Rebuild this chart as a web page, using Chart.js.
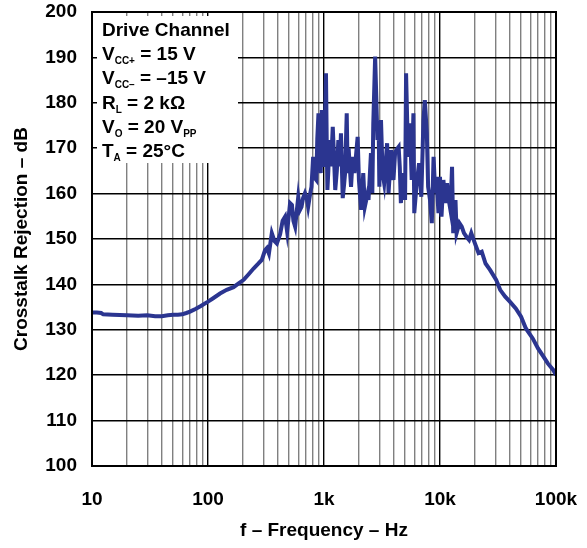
<!DOCTYPE html>
<html>
<head>
<meta charset="utf-8">
<script src="https://cdn.jsdelivr.net/npm/chart.js@4/dist/chart.umd.min.js"></script>
<style>
  html, body { margin: 0; padding: 0; background: #fff; }
  #wrap { width: 587px; height: 548px; }
</style>
</head>
<body>
<div id="wrap"><canvas id="chart" width="587" height="548"></canvas></div>
<script>
// frequency (Hz) and crosstalk rejection (dB)
const freqHz = [
  10, 11, 12, 12.5, 15, 20, 25, 30, 35, 40, 45, 50, 55, 60, 65, 70, 78, 86,
  100, 110, 127, 145, 166, 185, 203, 225, 247, 270, 291, 310, 322, 335, 355,
  375, 392, 418, 440, 462, 481, 510, 529, 545, 564, 600, 620, 640, 660, 686,
  710, 730, 760, 780, 806, 830, 859, 875, 896, 915, 937, 957, 970, 985,
  1010, 1040, 1055, 1070, 1090, 1110, 1150, 1190, 1220, 1250, 1290, 1330,
  1370, 1400, 1450, 1490, 1520, 1570, 1600, 1630, 1710, 1770, 1830, 1950,
  2000, 2090, 2180, 2250, 2380, 2420, 2540, 2610, 2660, 2760, 2890, 2960,
  3000, 3100, 3200, 3300, 3500, 3600, 3800, 3970, 4100, 4200, 4400, 4500,
  4600, 4800, 5000, 5100, 5300, 5500, 5700, 5900, 6000, 6300, 6600, 6900,
  7200, 7400, 7700, 7900, 8200, 8500, 8800, 9100, 9300, 9700, 10000, 10300,
  10700, 11100, 11500, 11900, 12300, 12700, 13000, 13600, 13900, 14700,
  15400, 16100, 16900, 17800, 18600, 19500, 20500, 21500, 22900, 24700,
  27000, 30500, 33000, 36500, 40000, 45000, 50000, 55000, 63000, 70000,
  78000, 85000, 95000, 100000
];
const rejectionDb = [
  133.8, 133.8, 133.7, 133.4, 133.3, 133.2, 133.1, 133.2, 133.0, 133.0, 133.2, 133.3, 133.3, 133.4, 133.7, 134.0, 134.6, 135.2,
  136.2, 136.9, 138.0, 138.8, 139.4, 140.3, 141.0, 142.3, 143.5, 144.5, 145.4, 147.5, 148.0, 146.8, 151.3,
  149.5, 149.0, 151.0, 154.0, 154.9, 151.6, 157.9, 157.5, 154.0, 152.7, 159.3, 156.4, 157.1, 159.0, 160.1,
  159.0, 157.1, 160.0, 161.5, 168.1, 163.5, 163.0, 172.0, 177.7, 169.0, 164.5, 178.4, 168.0, 165.9,
  170.0, 186.5, 172.0, 160.8, 165.0, 171.8, 166.0, 174.7, 168.0, 160.8, 165.0, 171.8,
  166.0, 173.3, 159.0, 162.0, 164.5, 177.7, 164.5, 170.0, 161.5, 168.1, 164.5, 172.5,
  163.0, 156.4, 164.5, 157.1, 160.1, 158.6, 168.9, 160.1, 175.5, 190.2, 171.8, 174.7,
  161.5, 176.2, 164.5, 162.3, 171.1, 160.1, 169.6, 163.0, 168.9, 169.6, 170.3, 165.9,
  157.9, 164.5, 158.6, 186.5, 168.1, 175.5, 163.0, 177.7, 155.7, 162.3, 166.7, 159.3,
  176.2, 180.6, 173.3, 161.5, 158.6, 153.5, 168.1, 160.1, 163.7, 155.7, 163.7, 154.9,
  163.0, 157.9, 162.3, 158.6, 156.4, 165.9, 151.3, 158.6, 151.3, 153.5,
  152.7, 151.3, 150.5, 149.8, 151.3, 149.8, 148.3, 146.9, 147.2, 144.6,
  143.2, 141.0, 138.8, 137.3, 136.2, 134.7, 132.9, 130.3, 128.1, 125.9,
  124.1, 122.6, 121.1, 120.0
];

// x tick labels for the decades
const decadeLabels = { 10: "10", 100: "100", 1000: "1k", 10000: "10k", 100000: "100k" };

// conditions box text (sub = subscript)
const legendLines = [
  [{ t: "Drive Channel" }],
  [{ t: "V" }, { t: "CC+", sub: true }, { t: " = 15 V" }],
  [{ t: "V" }, { t: "CC–", sub: true }, { t: " = –15 V" }],
  [{ t: "R" }, { t: "L", sub: true }, { t: " = 2 kΩ" }],
  [{ t: "V" }, { t: "O", sub: true }, { t: " = 20 V" }, { t: "PP", sub: true }],
  [{ t: "T" }, { t: "A", sub: true }, { t: " = 25°C" }]
];

const FONT = "'Liberation Sans', Arial, Helvetica, sans-serif";
const lineColor = "#2b3590";

const points = freqHz.map((f, i) => ({ x: f, y: rejectionDb[i] }));

// white box with test conditions, drawn after the grid
const conditionsBox = {
  id: "conditionsBox",
  beforeDatasetsDraw(chart) {
    const ctx = chart.ctx;
    const a = chart.chartArea;
    ctx.save();
    ctx.fillStyle = "#fff";
    ctx.fillRect(a.left + 5, a.top + 4, 141, 147);
    ctx.fillStyle = "#000";
    ctx.textBaseline = "alphabetic";
    let y = a.top + 24;
    legendLines.forEach((line) => {
      let x = a.left + 10;
      line.forEach((part) => {
        if (part.sub) {
          ctx.font = "bold 10px " + FONT;
          ctx.fillText(part.t, x, y + 4);
        } else {
          ctx.font = "bold 19px " + FONT;
          ctx.fillText(part.t, x, y);
        }
        x += ctx.measureText(part.t).width;
      });
      y += 24.2;
    });
    ctx.restore();
  },
  afterDraw(chart) {
    const ctx = chart.ctx;
    const a = chart.chartArea;
    ctx.save();
    ctx.strokeStyle = "#000";
    ctx.lineWidth = 2;
    ctx.strokeRect(a.left, a.top, a.right - a.left, a.bottom - a.top);
    ctx.restore();
  }
};

// no automatic padding for overflowing tick labels
const noPad = (scale) => {
  scale.paddingTop = 0;
  scale.paddingBottom = 0;
  scale.paddingLeft = 0;
  scale.paddingRight = 0;
};

new Chart(document.getElementById("chart"), {
  type: "scatter",
  data: {
    datasets: [{
      data: points,
      showLine: true,
      borderColor: lineColor,
      borderWidth: 4,
      pointRadius: 0,
      tension: 0,
      borderJoinStyle: "miter"
    }]
  },
  options: {
    responsive: false,
    animation: false,
    layout: { padding: { left: 0, top: 12, right: 31, bottom: 0 } },
    plugins: { legend: { display: false }, tooltip: { enabled: false } },
    scales: {
      x: {
        type: "logarithmic",
        min: 10,
        max: 100000,
        afterBuildTicks(scale) {
          const t = [];
          for (let d = 10; d < 100000; d *= 10) {
            for (let m = 1; m < 10; m++) t.push({ value: d * m });
          }
          t.push({ value: 100000 });
          scale.ticks = t;
        },
        afterFit(scale) { scale.height = 82; noPad(scale); },
        ticks: {
          autoSkip: false,
          maxRotation: 0,
          padding: 22,
          color: "#000",
          font: { family: FONT, size: 19, weight: "bold" },
          callback(v) { return decadeLabels[v] || ""; }
        },
        grid: {
          drawTicks: false,
          lineWidth: 1.4,
          color(c) {
            const v = c.tick.value;
            return decadeLabels[v] ? "#000" : "#808080";
          }
        },
        border: { display: false },
        title: {
          display: true,
          text: "f – Frequency – Hz",
          color: "#000",
          font: { family: FONT, size: 19, weight: "bold" },
          padding: { top: 0, bottom: 6 }
        }
      },
      y: {
        min: 100,
        max: 200,
        afterFit(scale) { scale.width = 92; noPad(scale); },
        ticks: {
          stepSize: 10,
          padding: 15,
          color: "#000",
          font: { family: FONT, size: 19, weight: "bold" }
        },
        grid: { drawTicks: false, lineWidth: 1.6, color: "#000" },
        border: { display: false },
        title: {
          display: true,
          text: "Crosstalk Rejection – dB",
          color: "#000",
          font: { family: FONT, size: 19, weight: "bold" },
          padding: { top: 10, bottom: 0 }
        }
      }
    }
  },
  plugins: [conditionsBox]
});
</script>
</body>
</html>
